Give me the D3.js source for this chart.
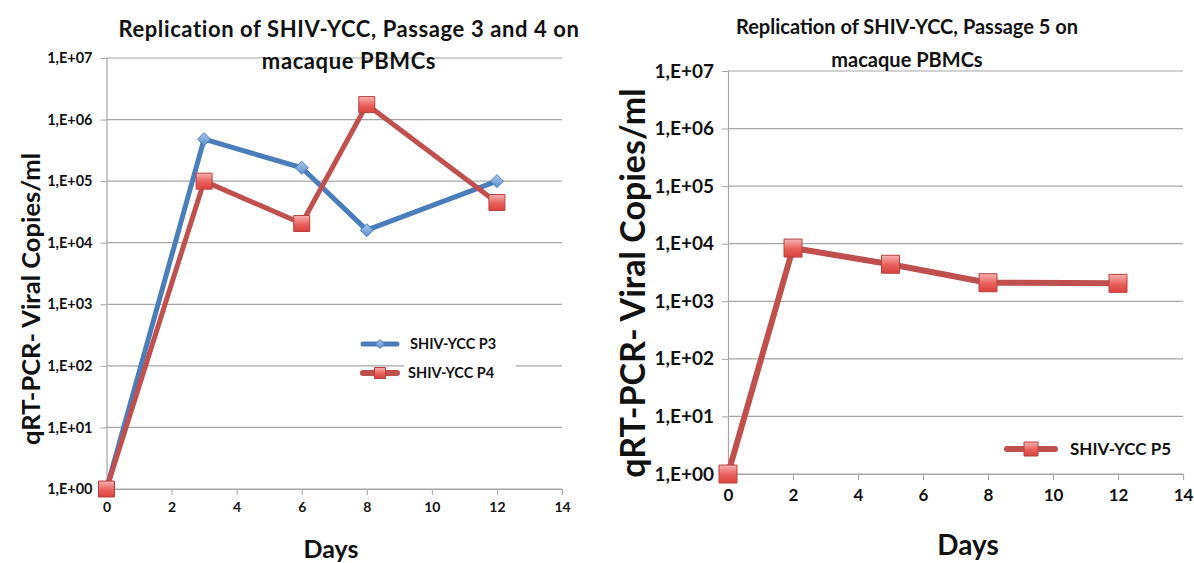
<!DOCTYPE html>
<html><head><meta charset="utf-8">
<script src="https://cdn.jsdelivr.net/npm/d3@7"></script>
<style>
body{margin:0;background:#fff;}
text{font-family:Lato,"Open Sans",sans-serif;font-weight:bold;fill:#111;}
</style></head>
<body><svg id="c" width="1194" height="563"></svg>
<script>
// ---- data ----
const days34 = [0, 3, 6, 8, 12];
const p3 = [1, 480000, 165000, 16000, 100000];
const p4 = [1, 100000, 20500, 1750000, 45000];
const days5 = [0, 2, 5, 8, 12];
const p5 = [1, 8400, 4400, 2100, 2050];
const yTickValues = [1, 10, 100, 1000, 10000, 100000, 1000000, 10000000];
const yTickLabels = ["1,E+00","1,E+01","1,E+02","1,E+03","1,E+04","1,E+05","1,E+06","1,E+07"];
const xTickValues = [0, 2, 4, 6, 8, 10, 12, 14];
const titleLeft = ["Replication of SHIV-YCC, Passage 3 and 4 on", "macaque PBMCs"];
const titleRight = ["Replication of SHIV-YCC, Passage 5 on", "macaque PBMCs"];
const yTitle = "qRT-PCR- Viral Copies/ml";
const xTitle = "Days";

const BLUE = "#4a7ebb", RED = "#c0504d";
const svg = d3.select("#c");
const defs = svg.append("defs");
const gr = defs.append("linearGradient").attr("id","gRed").attr("x1",0).attr("y1",0).attr("x2",0).attr("y2",1);
gr.append("stop").attr("offset","0%").attr("stop-color","#f6b3b1");
gr.append("stop").attr("offset","55%").attr("stop-color","#e8605c");
gr.append("stop").attr("offset","100%").attr("stop-color","#d9423e");
const gb = defs.append("linearGradient").attr("id","gBlue").attr("x1",0).attr("y1",0).attr("x2",0).attr("y2",1);
gb.append("stop").attr("offset","0%").attr("stop-color","#a9c6ec");
gb.append("stop").attr("offset","100%").attr("stop-color","#5b8fd0");

function chart(cfg){
  const x = d3.scaleLinear().domain([0,14]).range([cfg.x0, cfg.x1]);
  const y = d3.scaleLog().domain([1,1e7]).range([cfg.y0, cfg.y1]);
  const g = svg.append("g");
  g.append("g").selectAll("line").data(yTickValues).join("line")
    .attr("x1",cfg.x0).attr("x2",cfg.x1).attr("y1",d=>y(d)).attr("y2",d=>y(d))
    .attr("stroke","#a6a6a6").attr("stroke-width",1.2);
  const ya = g.append("g").attr("transform",`translate(${cfg.x0},0)`)
    .call(d3.axisLeft(y).tickValues(yTickValues).tickSize(cfg.tick).tickPadding(cfg.yPad)
      .tickFormat((d,i)=>yTickLabels[i]));
  ya.attr("font-size",null).attr("font-family",null);
  ya.select(".domain").attr("stroke","#a6a6a6").attr("stroke-width",1.2);
  ya.selectAll(".tick line").attr("stroke","#a6a6a6");
  ya.selectAll(".tick text").style("font-size",cfg.yFs+"px").attr("fill","#111");
  const xa = g.append("g").attr("transform",`translate(0,${cfg.y0})`)
    .call(d3.axisBottom(x).tickValues(xTickValues).tickSize(cfg.tick).tickPadding(cfg.xPad));
  xa.attr("font-size",null).attr("font-family",null);
  xa.select(".domain").attr("stroke","#a6a6a6").attr("stroke-width",1.2);
  xa.selectAll(".tick line").attr("stroke","#a6a6a6");
  xa.selectAll(".tick text").style("font-size",cfg.xFs+"px").attr("fill","#111");
  g.append("g").selectAll("text").data(cfg.title).join("text")
    .attr("x",cfg.tx).attr("y",(d,i)=>cfg.ty+i*cfg.tdy).attr("text-anchor","middle")
    .style("font-size",cfg.tFs+"px").style("letter-spacing",cfg.tLs+"px").text(d=>d);
  g.append("text").attr("transform",`translate(${cfg.ytx},${cfg.yty}) rotate(-90)`)
    .attr("text-anchor","middle").style("font-size",cfg.ytFs+"px").text(yTitle);
  g.append("text").attr("x",cfg.xtx).attr("y",cfg.xty).attr("text-anchor","middle")
    .style("font-size",cfg.xtFs+"px").text(xTitle);
  return {x,y,g};
}

function drawSeries(c, days, vals, color, shape, size, lw){
  const line = d3.line().x((d,i)=>c.x(days[i])).y(d=>c.y(d));
  c.g.append("path").datum(vals).attr("d",line).attr("fill","none")
    .attr("stroke",color).attr("stroke-width",lw).attr("stroke-linejoin","round");
  const m = c.g.append("g").selectAll("path").data(vals).join("path")
    .attr("transform",(d,i)=>`translate(${c.x(days[i])},${c.y(d)})`);
  if(shape==="square"){
    m.attr("d",`M${-size/2},${-size/2}h${size}v${size}h${-size}Z`)
     .attr("fill","url(#gRed)").attr("stroke","#b8413e").attr("stroke-width",1);
  } else {
    m.attr("d",`M0,${-size/2}L${size/2},0L0,${size/2}L${-size/2},0Z`)
     .attr("fill","url(#gBlue)").attr("stroke","#4a7ebb").attr("stroke-width",1);
  }
}

function legendItem(g, lx, ly, lw, color, shape, size, label, tx, fs, bg){
  if(bg){ g.append("rect").attr("x",tx-4).attr("y",ly-12).attr("width",bg).attr("height",22).attr("fill","#fff"); }
  g.append("line").attr("x1",lx).attr("x2",lx+lw).attr("y1",ly).attr("y2",ly)
    .attr("stroke",color).attr("stroke-width",shape==="square"?6:5).attr("stroke-linecap","round");
  const cx = lx+lw/2;
  if(shape==="square"){
    g.append("path").attr("d",`M${cx-size/2},${ly-size/2}h${size}v${size}h${-size}Z`)
     .attr("fill","url(#gRed)").attr("stroke","#b8413e");
  } else {
    g.append("path").attr("d",`M${cx},${ly-size/2}L${cx+size/2},${ly}L${cx},${ly+size/2}L${cx-size/2},${ly}Z`)
     .attr("fill","url(#gBlue)").attr("stroke","#4a7ebb");
  }
  g.append("text").attr("x",tx).attr("y",ly).attr("dy","0.35em").style("font-size",fs+"px").text(label);
}

// ---- left chart ----
const L = chart({x0:106.5,x1:562,y0:489,y1:58,tick:6,yPad:8,xPad:7,yFs:14.5,xFs:14,
  title:titleLeft,tx:349,ty:37,tdy:32,tFs:22,tLs:0.6,
  ytx:40,yty:299,ytFs:25.5,xtx:331,xty:558,xtFs:25});
drawSeries(L, days34, p3, BLUE, "diamond", 13, 5);
drawSeries(L, days34, p4, RED, "square", 16, 5);
legendItem(L.g, 363, 344, 34, BLUE, "diamond", 9, "SHIV-YCC P3", 410, 14.5, 0);
legendItem(L.g, 363, 373, 34, RED, "square", 11, "SHIV-YCC P4", 408, 14.5, 112);

// ---- right chart ----
const R = chart({x0:728,x1:1183,y0:474,y1:71,tick:6,yPad:8,xPad:9,yFs:19,xFs:17,
  title:titleRight,tx:907,ty:34,tdy:33,tFs:20,tLs:0,
  ytx:645,yty:283,ytFs:34,xtx:968,xty:555,xtFs:28});
drawSeries(R, days5, p5, RED, "square", 18, 6);
legendItem(R.g, 1007, 449, 48, RED, "square", 14, "SHIV-YCC P5", 1070, 17, 0);
</script></body></html>
